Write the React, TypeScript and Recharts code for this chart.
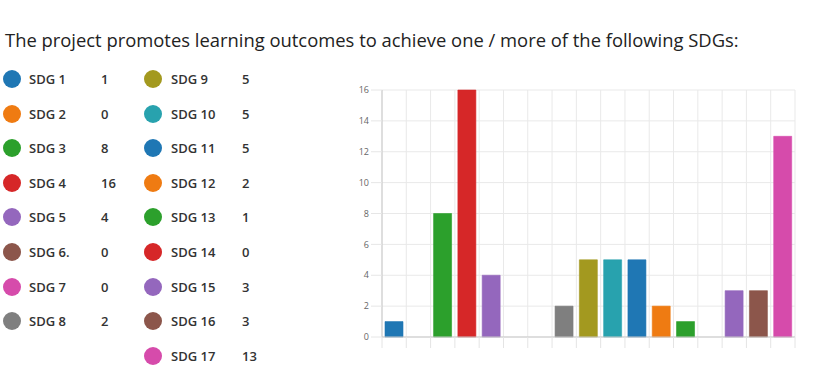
import React from "react";
import { BarChart, Bar, XAxis, YAxis, CartesianGrid, Cell } from "recharts";

const titleText = "The project promotes learning outcomes to achieve one / more of the following SDGs:";

const categories = [
  "SDG 1", "SDG 2", "SDG 3", "SDG 4", "SDG 5", "SDG 6", "SDG 7", "SDG 8", "SDG 9",
  "SDG 10", "SDG 11", "SDG 12", "SDG 13", "SDG 14", "SDG 15", "SDG 16", "SDG 17",
];

const legendLabels = [
  "SDG 1", "SDG 2", "SDG 3", "SDG 4", "SDG 5", "SDG 6.", "SDG 7", "SDG 8", "SDG 9",
  "SDG 10", "SDG 11", "SDG 12", "SDG 13", "SDG 14", "SDG 15", "SDG 16", "SDG 17",
];

const values = [1, 0, 8, 16, 4, 0, 0, 2, 5, 5, 5, 2, 1, 0, 3, 3, 13];

const colors = [
  "#1f77b4", "#ef7b12", "#2ca02c", "#d62728", "#9467bd", "#8c564b", "#d64bab", "#7f7f7f",
  "#a3991f", "#28a2ae", "#1f77b4", "#ef7b12", "#2ca02c", "#d62728", "#9467bd", "#8c564b", "#d64bab",
];

const yTicks = [0, 2, 4, 6, 8, 10, 12, 14, 16];
const xBoundaryTicks = [0, 1, 2, 3, 4, 5, 6, 7, 8, 9, 10, 11, 12, 13, 14, 15, 16, 17];

// each category sits in the middle of its slot on a 0..17 axis
const data = categories.map((name, i) => ({ name, slot: i + 0.5, value: values[i] }));

const FONT = "'Open Sans', 'Noto Sans', sans-serif";

const EmptyTick = () => <g />;

function LegendItem({ idx, col, row }: { idx: number; col: number; row: number }) {
  const cy = 79 + row * 34.6;
  const circleX = col === 0 ? 3 : 144;
  const labelX = col === 0 ? 29 : 171;
  const valueX = col === 0 ? 101 : 242;
  const textStyle: React.CSSProperties = {
    position: "absolute",
    top: cy - 10,
    height: 20,
    lineHeight: "20px",
    whiteSpace: "nowrap",
    fontSize: 13,
    fontWeight: 600,
    color: "#333",
    fontFamily: FONT,
  };
  return (
    <>
      <div
        style={{
          position: "absolute",
          left: circleX,
          top: cy - 9,
          width: 18,
          height: 18,
          borderRadius: "50%",
          background: colors[idx],
        }}
      />
      <div style={{ ...textStyle, left: labelX }}>{legendLabels[idx]}</div>
      <div style={{ ...textStyle, left: valueX }}>{values[idx]}</div>
    </>
  );
}

export default function App() {
  return (
    <div
      style={{
        position: "absolute",
        left: 0,
        top: 0,
        width: 814,
        height: 382,
        background: "#fff",
        overflow: "hidden",
      }}
    >
      <div
        style={{
          position: "absolute",
          left: 5,
          top: 28,
          fontSize: 18.4,
          lineHeight: "24px",
          color: "#222",
          fontFamily: FONT,
          whiteSpace: "nowrap",
        }}
      >
        {titleText}
      </div>
      {legendLabels.map((_, i) => (
        <LegendItem key={i} idx={i} col={i < 8 ? 0 : 1} row={i < 8 ? i : i - 8} />
      ))}
      <div style={{ position: "absolute", left: 0, top: 0 }}>
        <BarChart
          width={814}
          height={382}
          data={data}
          margin={{ top: 90, right: 19, bottom: 34, left: 342 }}
          barSize={18}
        >
          <CartesianGrid stroke="#e9e9e9" strokeWidth={1} />
          <XAxis
            dataKey="slot"
            type="number"
            domain={[0, 17]}
            ticks={xBoundaryTicks}
            interval={0}
            allowDataOverflow
            tick={EmptyTick}
            tickSize={11}
            height={11}
            tickLine={{ stroke: "#e4e4e4" }}
            axisLine={{ stroke: "#c8c8c8" }}
          />
          <YAxis
            width={40}
            domain={[0, 16]}
            ticks={yTicks}
            interval={0}
            tickSize={11}
            tickMargin={2}
            tickLine={{ stroke: "#e6e6e6" }}
            axisLine={{ stroke: "#c8c8c8" }}
            tick={{ fill: "#666", fontSize: 9, fontFamily: FONT }}
          />
          <Bar dataKey="value" isAnimationActive={false}>
            {data.map((d, i) => (
              <Cell key={d.name} fill={colors[i]} stroke={colors[i]} strokeOpacity={0.6} />
            ))}
          </Bar>
        </BarChart>
      </div>
    </div>
  );
}
